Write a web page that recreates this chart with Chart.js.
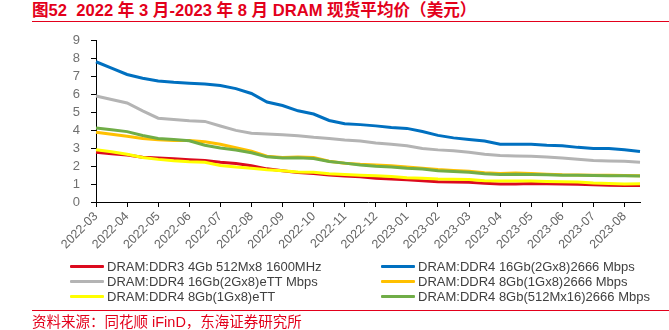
<!DOCTYPE html>
<html>
<head>
<meta charset="utf-8">
<script src="https://cdn.jsdelivr.net/npm/chart.js@4/dist/chart.umd.min.js"></script>
<style>
  html, body { margin: 0; padding: 0; background: #fff; }
  body { width: 669px; height: 330px; position: relative; overflow: hidden;
         font-family: "Liberation Sans", "Noto Sans CJK SC", sans-serif; }
  #title { position: absolute; left: 32px; top: 1px; font-size: 16.6px; line-height: 19px; font-weight: bold;
           color: #e3001b; white-space: nowrap; }
  .rule { position: absolute; left: 32px; right: 0; height: 1px; background: #e3001b; }
  #wrap { position: absolute; left: 0; top: 22px; width: 669px; height: 240px; }
  #legend { position: absolute; left: 0; top: 259px; width: 669px; }
  .item { position: absolute; height: 15px; font-size: 13px; color: #404040; white-space: nowrap; }
  .item i { position: absolute; left: 0; top: 6px; width: 34px; height: 3px; border-radius: 1px; }
  .item span { position: absolute; left: 37px; top: 0; line-height: 15px; }
  #source { position: absolute; left: 32px; top: 314px; font-size: 14.5px; line-height: 17px; color: #e3001b; white-space: nowrap; }
</style>
</head>
<body>
<div id="title">图52&nbsp; 2022 年 3 月-2023 年 8 月 DRAM 现货平均价（美元）</div>
<div class="rule" style="top:21px"></div>
<div id="wrap"><canvas id="dramChart"></canvas></div>
<div id="legend"></div>
<div class="rule" style="top:310px"></div>
<div id="source">资料来源：同花顺 iFinD，东海证券研究所</div>
<script>
// semi-monthly observations, 2022-03 .. 2023-08
const dates = [
  '2022-03-01', '2022-03-16', '2022-04-01', '2022-04-16', '2022-05-01', '2022-05-16',
  '2022-06-01', '2022-06-16', '2022-07-01', '2022-07-16', '2022-08-01', '2022-08-16',
  '2022-09-01', '2022-09-16', '2022-10-01', '2022-10-16', '2022-11-01', '2022-11-16',
  '2022-12-01', '2022-12-16', '2023-01-01', '2023-01-16', '2023-02-01', '2023-02-16',
  '2023-03-01', '2023-03-16', '2023-04-01', '2023-04-16', '2023-05-01', '2023-05-16',
  '2023-06-01', '2023-06-16', '2023-07-01', '2023-07-16', '2023-08-01', '2023-08-16'
];

const seriesNames = [
  'DRAM:DDR3 4Gb 512Mx8 1600MHz',
  'DRAM:DDR4 16Gb(2Gx8)2666 Mbps',
  'DRAM:DDR4 16Gb(2Gx8)eTT Mbps',
  'DRAM:DDR4 8Gb(1Gx8)2666 Mbps',
  'DRAM:DDR4 8Gb(1Gx8)eTT',
  'DRAM:DDR4 8Gb(512Mx16)2666 Mbps'
];

const ddr3_4gb = [
  2.78, 2.70, 2.62, 2.50, 2.45, 2.41, 2.36, 2.32, 2.22, 2.15, 2.02, 1.85,
  1.75, 1.64, 1.59, 1.51, 1.45, 1.41, 1.33, 1.28, 1.24, 1.19, 1.13, 1.12,
  1.10, 1.04, 1.01, 1.01, 1.03, 1.02, 1.01, 0.99, 0.96, 0.93, 0.92, 0.92
];
const ddr4_16gb_2666 = [
  7.83, 7.48, 7.12, 6.91, 6.75, 6.68, 6.63, 6.59, 6.50, 6.33, 6.06, 5.58,
  5.39, 5.09, 4.91, 4.55, 4.37, 4.32, 4.25, 4.16, 4.11, 3.94, 3.72, 3.58,
  3.49, 3.40, 3.22, 3.22, 3.22, 3.17, 3.14, 3.05, 2.99, 2.99, 2.92, 2.82
];
const ddr4_16gb_ett = [
  5.92, 5.72, 5.53, 5.09, 4.68, 4.61, 4.53, 4.50, 4.24, 4.00, 3.84, 3.80,
  3.76, 3.70, 3.61, 3.54, 3.46, 3.40, 3.30, 3.22, 3.14, 2.99, 2.91, 2.86,
  2.78, 2.66, 2.59, 2.57, 2.55, 2.51, 2.45, 2.39, 2.32, 2.29, 2.27, 2.22
];
const ddr4_8gb_2666 = [
  3.90, 3.78, 3.67, 3.55, 3.47, 3.44, 3.44, 3.36, 3.22, 3.03, 2.83, 2.56,
  2.48, 2.51, 2.48, 2.28, 2.17, 2.11, 2.07, 2.02, 1.96, 1.89, 1.81, 1.76,
  1.72, 1.64, 1.59, 1.62, 1.59, 1.55, 1.52, 1.51, 1.50, 1.49, 1.48, 1.47
];
const ddr4_8gb_ett = [
  2.92, 2.80, 2.67, 2.48, 2.38, 2.30, 2.25, 2.22, 2.04, 1.95, 1.89, 1.80,
  1.74, 1.68, 1.66, 1.58, 1.54, 1.50, 1.47, 1.42, 1.36, 1.33, 1.29, 1.27,
  1.26, 1.19, 1.17, 1.17, 1.17, 1.15, 1.13, 1.11, 1.06, 1.03, 1.01, 1.02
];
const ddr4_8gb_x16 = [
  4.13, 4.04, 3.93, 3.71, 3.55, 3.49, 3.42, 3.17, 3.01, 2.90, 2.75, 2.52,
  2.45, 2.47, 2.43, 2.26, 2.17, 2.07, 2.00, 1.96, 1.89, 1.84, 1.74, 1.70,
  1.66, 1.58, 1.54, 1.55, 1.54, 1.52, 1.50, 1.49, 1.48, 1.47, 1.46, 1.45
];

const yTicks = { min: 0, max: 9, step: 1 };

const seriesValues = [ddr3_4gb, ddr4_16gb_2666, ddr4_16gb_ett, ddr4_8gb_2666, ddr4_8gb_ett, ddr4_8gb_x16];
const colors = ['#dc0a1e', '#0070c0', '#b4b4b4', '#ffc000', '#ffff00', '#70ad47'];

const datasets = seriesValues.map((vals, i) => ({
  label: seriesNames[i],
  data: vals,
  borderColor: colors[i],
  backgroundColor: colors[i],
  borderWidth: 3,
  pointRadius: 0,
  tension: 0,
  // later series sit on top, like the source
  order: seriesValues.length - i
}));

const tickLabel = (lbl) => lbl.endsWith('-01') ? lbl.slice(0, 7) : '';

new Chart(document.getElementById('dramChart'), {
  type: 'line',
  data: { labels: dates, datasets },
  options: {
    responsive: true,
    maintainAspectRatio: false,
    animation: false,
    layout: { padding: { top: 10, right: 29, bottom: 0, left: 0 } },
    plugins: { legend: { display: false }, tooltip: { enabled: false } },
    scales: {
      x: {
        type: 'category',
        offset: false,
        border: { color: '#000', width: 1 },
        grid: {
          drawOnChartArea: false,
          tickLength: 5,
          tickColor: (ctx) => (ctx.index % 2 === 0 ? '#000' : 'rgba(0,0,0,0)')
        },
        ticks: {
          autoSkip: false,
          maxRotation: 45,
          minRotation: 45,
          padding: 2,
          color: '#666666',
          font: { family: 'Liberation Sans', size: 12.5 },
          callback: function (val) { return tickLabel(this.getLabelForValue(val)); }
        },
        afterFit: (s) => { s.height = 60; }
      },
      y: {
        min: yTicks.min,
        max: yTicks.max,
        border: { color: '#000', width: 1 },
        grid: { drawOnChartArea: false, tickLength: 5, tickColor: '#000' },
        ticks: {
          stepSize: yTicks.step,
          autoSkip: false,
          padding: 11,
          color: '#707070',
          font: { family: 'Liberation Sans', size: 13 }
        },
        afterFit: (s) => { s.width = 96; }
      }
    }
  }
});

// two-column legend under the plot
const legend = document.getElementById('legend');
const cols = [70, 381];
seriesNames.forEach((name, i) => {
  const el = document.createElement('div');
  el.className = 'item';
  el.style.left = cols[i % 2] + 'px';
  el.style.top = (Math.floor(i / 2) * 14.8) + 'px';
  el.innerHTML = '<i style="background:' + colors[i] + '"></i><span>' + name + '</span>';
  legend.appendChild(el);
});
</script>
</body>
</html>
